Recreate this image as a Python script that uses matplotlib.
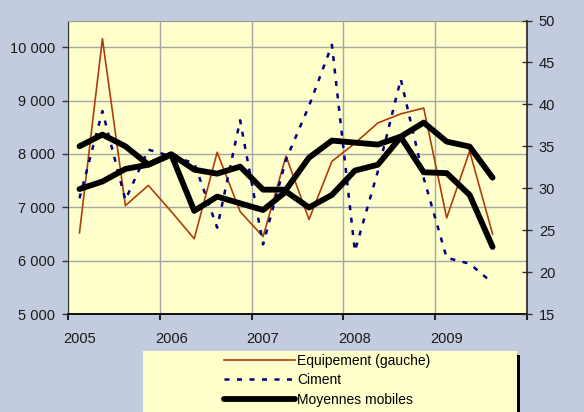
import numpy as np
import matplotlib
matplotlib.use("Agg")
from matplotlib import pyplot as plt
from matplotlib.patches import Rectangle

plt.rcParams['font.family'] = ['Liberation Sans', 'DejaVu Sans']

# trimestres 2005T1 .. 2009T3
years = ['2005', '2006', '2007', '2008', '2009']
equipement = [6520, 10160, 7030, 7410, 6920, 6410, 8030, 6920, 6450, 7960,
              6770, 7860, 8200, 8580, 8750, 8860, 6800, 8050, 6500]
ciment = [28.8, 39.2, 28.6, 34.6, 33.8, 33.0, 25.3, 38.1, 23.3, 33.4,
          39.8, 47.1, 22.5, 32.0, 43.0, 31.2, 21.7, 21.0, 18.7]
mm_equipement = [8143, 8362, 8143, 7800, 7994, 7705, 7630, 7762, 7330, 7330,
                 7930, 8250, 8212, 8175, 8325, 8587, 8231, 8137, 7555]
mm_ciment = [29.9, 30.8, 32.3, 32.8, 34.0, 27.3, 29.0, 28.2, 27.4, 29.6,
             27.7, 29.2, 32.1, 32.8, 36.1, 31.9, 31.8, 29.2, 23.0]

x = np.arange(len(equipement)) + 0.5

fig = plt.figure(figsize=(5.84, 4.12), dpi=100)
fig.patch.set_facecolor('#C2CCDE')
ax = fig.add_axes([68/584, 1-314/412, 459/584, 293.5/412])
ax.set_facecolor('#FFFFCC')
ax2 = ax.twinx()

# lignes
l1, = ax.plot(x, equipement, color='#B03C0A', lw=1.2, zorder=3)
l2, = ax2.plot(x, ciment, color='#000080', lw=1.8, linestyle=(0, (2, 3)), zorder=2)
l3, = ax2.plot(x, mm_ciment, color='black', lw=4.2, solid_capstyle='round',
               solid_joinstyle='round', zorder=4)
ax2.plot(x, mm_equipement, color='black', lw=4.2, solid_capstyle='round',
         solid_joinstyle='round', transform=ax.transData, zorder=4)

# axes
ax.set_xlim(0, 20)
ax.set_ylim(5000, 10500)
ax2.set_ylim(15, 50)
ax.set_yticks(range(5000, 10001, 1000))
ax.set_yticklabels(['5 000', '6 000', '7 000', '8 000', '9 000', '10 000'])
ax2.set_yticks(range(15, 51, 5))
ax.set_xticks(range(0, 21, 4))
ax.set_xticklabels([])
ax.set_xticks(np.arange(0, 20, 4) + 0.5, minor=True)
ax.set_xticklabels(years, minor=True)

ax.grid(True, which='major', color='#A6A6A6', lw=1, zorder=0)
ax.set_axisbelow(True)

ax.tick_params(axis='y', direction='out', length=4.5, width=1, color='#333333',
               labelsize=10.5, pad=5, colors='#1A1A1A')
ax.tick_params(axis='x', which='major', direction='out', length=4.5, width=1.2, color='black')
ax.tick_params(axis='x', which='minor', length=0, labelsize=10.5, pad=13, colors='#1A1A1A')
ax2.tick_params(axis='y', direction='inout', length=7, width=1, color='#333333',
                labelsize=10.5, pad=5, colors='#1A1A1A')

ax.spines['left'].set_color('#333333')
ax.spines['top'].set_color('#999999')
ax.spines['bottom'].set_color('black')
ax.spines['bottom'].set_linewidth(1.3)
ax.spines['right'].set_visible(False)
ax2.spines['right'].set_color('#222222')
ax2.spines['right'].set_linewidth(1.2)
for s in ['left', 'top', 'bottom']:
    ax2.spines[s].set_visible(False)

# légende
fig.patches.append(Rectangle((143/584, 0), 374/584, 1-351/412, transform=fig.transFigure,
                             facecolor='#FFFFCC', edgecolor='none', zorder=0))
fig.patches.append(Rectangle((517/584, 0), 3/584, 1-355/412, transform=fig.transFigure,
                             facecolor='black', edgecolor='none', zorder=0))
fig.legend([l1, l2, l3], ['Equipement (gauche)', 'Ciment', 'Moyennes mobiles'],
           loc='upper left', bbox_to_anchor=(224/584, 1-354/412), frameon=False,
           fontsize=10, handlelength=5.1, handletextpad=0.15, labelspacing=0.38,
           borderpad=0, borderaxespad=0)

fig.savefig('out.png', dpi=100, facecolor=fig.get_facecolor())
